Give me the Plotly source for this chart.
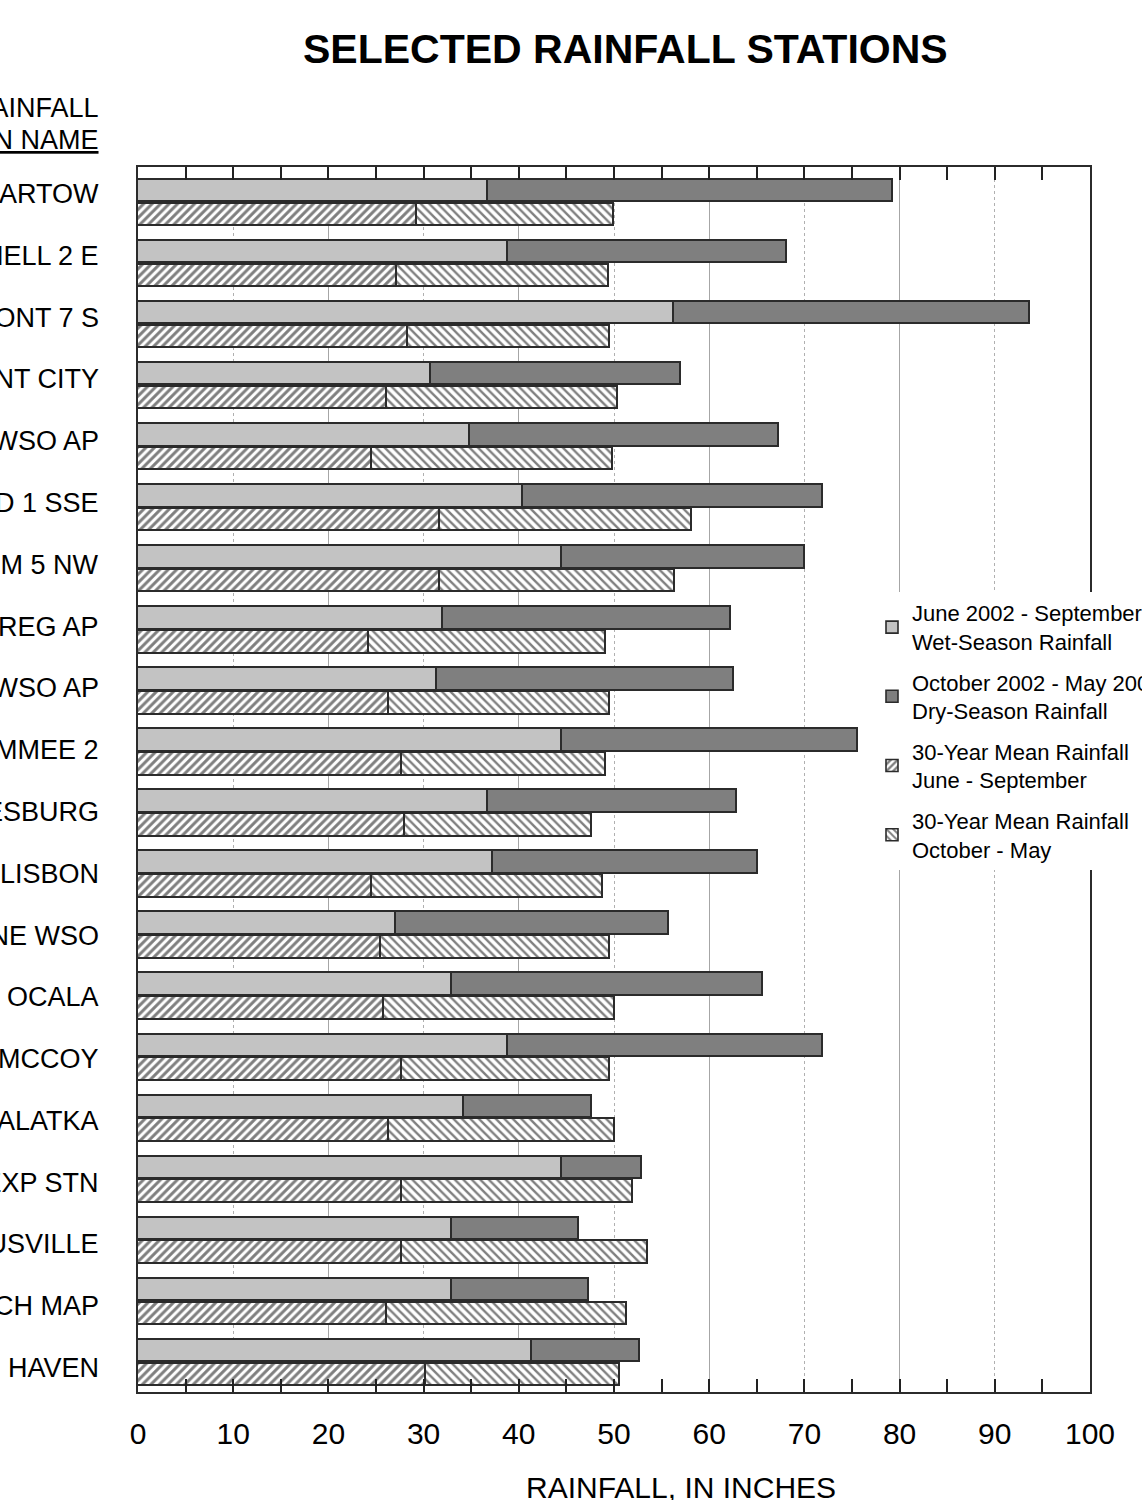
import plotly.graph_objects as go

# Station names and rainfall totals (inches)
stations = [
    "BARTOW", "BUSHNELL 2 E", "CLERMONT 7 S", "CRESCENT CITY",
    "DAYTONA BEACH WSO AP", "DELAND 1 SSE", "FORT DRUM 5 NW",
    "GAINESVILLE REG AP", "JACKSONVILLE WSO AP", "KISSIMMEE 2",
    "LEESBURG", "LISBON", "MELBOURNE WSO", "OCALA", "ORLANDO MCCOY",
    "PALATKA", "SANFORD EXP STN", "TITUSVILLE", "VERO BEACH MAP",
    "WINTER HAVEN",
]
wet_2002 = [36.8, 38.9, 56.3, 30.8, 34.9, 40.4, 44.5, 32.0, 31.4, 44.5,
            36.8, 37.3, 27.1, 33.0, 38.9, 34.2, 44.5, 33.0, 33.0, 41.4]
dry_2003 = [42.5, 29.3, 37.4, 26.2, 32.4, 31.6, 25.6, 30.3, 31.2, 31.1,
            26.1, 27.8, 28.7, 32.7, 33.1, 13.5, 8.4, 13.3, 14.4, 11.3]
mean_jun_sep = [29.3, 27.2, 28.4, 26.2, 24.6, 31.7, 31.7, 24.3, 26.4, 27.7,
                28.0, 24.6, 25.5, 25.8, 27.7, 26.4, 27.7, 27.7, 26.2, 30.2]
mean_oct_may = [20.7, 22.3, 21.2, 24.2, 25.3, 26.5, 24.7, 24.9, 23.2, 21.5,
                19.7, 24.2, 24.1, 24.3, 21.9, 23.7, 24.3, 25.9, 25.2, 20.4]
x_ticks = [0, 10, 20, 30, 40, 50, 60, 70, 80, 90, 100]
x_major_grid = [0, 20, 40, 60, 80, 100]

FONT = "Liberation Sans, Arial, Helvetica, sans-serif"
W, H = 1142, 1500
ML, MR, MT, MB = 138, 52, 167, 108
PW, PH = W - ML - MR, H - MT - MB

n = len(stations)
pos_obs = list(range(n))
pos_mean = [p + 0.39 for p in pos_obs]
pos_label = [0.05 + p * 1.012 for p in pos_obs]
BAR_W = 0.37
outline = dict(color="#2b2b2b", width=1.6)

fig = go.Figure()
# 2002-03 observed rainfall (bottom axis)
fig.add_bar(
    y=pos_obs, x=wet_2002, orientation="h", width=BAR_W,
    name="June 2002 - September 2002<br>Wet-Season Rainfall",
    legendgroup="g1", marker=dict(color="#c3c3c3", line=outline),
)
fig.add_bar(
    y=pos_obs, x=dry_2003, orientation="h", width=BAR_W,
    name="October 2002 - May 2003<br>Dry-Season Rainfall",
    legendgroup="g2", marker=dict(color="#7f7f7f", line=outline),
)
# 30-year means (top axis, same scale)
fig.add_bar(
    y=pos_mean, x=mean_jun_sep, orientation="h", width=BAR_W,
    xaxis="x2",
    name="30-Year Mean Rainfall<br>June - September",
    legendgroup="g3",
    marker=dict(color="white", line=outline,
                pattern=dict(shape="/", size=6, solidity=0.5,
                             fgcolor="black", bgcolor="white")),
)
fig.add_bar(
    y=pos_mean, x=mean_oct_may, orientation="h", width=BAR_W,
    xaxis="x2",
    name="30-Year Mean Rainfall<br>October - May",
    legendgroup="g4",
    marker=dict(color="white", line=outline,
                pattern=dict(shape="\\", size=6, solidity=0.4,
                             fgcolor="black", bgcolor="white")),
)


def px_to_paper_x(px):
    return (px - ML) / PW


def px_to_paper_y(py):
    return 1 - (py - MT) / PH


LABEL_SIZE = 27
annotations = [
    dict(text="<b>SELECTED RAINFALL STATIONS</b>", xref="paper", yref="paper",
         x=px_to_paper_x(625), y=px_to_paper_y(49), xanchor="center",
         yanchor="middle", showarrow=False, font=dict(size=41, color="black")),
    dict(text="RAINFALL", xref="paper", yref="paper",
         x=px_to_paper_x(101), y=px_to_paper_y(108), xanchor="right",
         yanchor="middle", showarrow=False,
         font=dict(size=LABEL_SIZE, color="black")),
    dict(text="<u>STATION NAME</u>", xref="paper", yref="paper",
         x=px_to_paper_x(101), y=px_to_paper_y(140), xanchor="right",
         yanchor="middle", showarrow=False,
         font=dict(size=LABEL_SIZE, color="black")),
    dict(text="RAINFALL, IN INCHES", xref="paper", yref="paper",
         x=px_to_paper_x(681), y=px_to_paper_y(1487), xanchor="center",
         yanchor="middle", showarrow=False, font=dict(size=30, color="black")),
]
for name, yl in zip(stations, pos_label):
    annotations.append(dict(
        text=name, xref="paper", yref="y", x=px_to_paper_x(101), y=yl,
        xanchor="right", yanchor="middle", showarrow=False,
        font=dict(size=LABEL_SIZE, color="black"),
    ))

tick_style = dict(ticks="inside", ticklen=13, tickwidth=2, tickcolor="#222")

fig.update_layout(
    width=W, height=H,
    margin=dict(l=ML, r=MR, t=MT, b=MB, autoexpand=False),
    paper_bgcolor="white", plot_bgcolor="white",
    font=dict(family=FONT, color="black"),
    barmode="stack",
    bargap=0,
    showlegend=True,
    legend=dict(
        x=px_to_paper_x(872), y=px_to_paper_y(592),
        xanchor="left", yanchor="top",
        bgcolor="white", borderwidth=0,
        font=dict(size=22, color="black"),
        traceorder="grouped", tracegroupgap=9, valign="middle",
    ),
    xaxis=dict(
        range=[0, 100], tickvals=x_ticks, **tick_style,
        minor=dict(dtick=5, tick0=0, showgrid=False, **tick_style),
        showgrid=True, gridcolor="#b0b0b0", griddash="dot", gridwidth=1,
        zeroline=False, showline=True, linecolor="#2b2b2b", linewidth=2,
        mirror=True, tickfont=dict(size=30), ticklabelstandoff=14,
    ),
    xaxis2=dict(
        overlaying="x", matches="x", side="top", anchor="y", range=[0, 100],
        tickvals=x_major_grid, **tick_style, showticklabels=False,
        minor=dict(dtick=5, tick0=0, showgrid=False, **tick_style),
        showgrid=True, gridcolor="#a6a6a6", gridwidth=1,
        zeroline=False, showline=False,
    ),
    yaxis=dict(
        range=[19.67, -0.393], showgrid=False, showticklabels=False,
        ticks="", zeroline=False, showline=True, linecolor="#2b2b2b",
        linewidth=2, mirror=True,
    ),
    annotations=annotations,
)

fig.write_html("out.html")
